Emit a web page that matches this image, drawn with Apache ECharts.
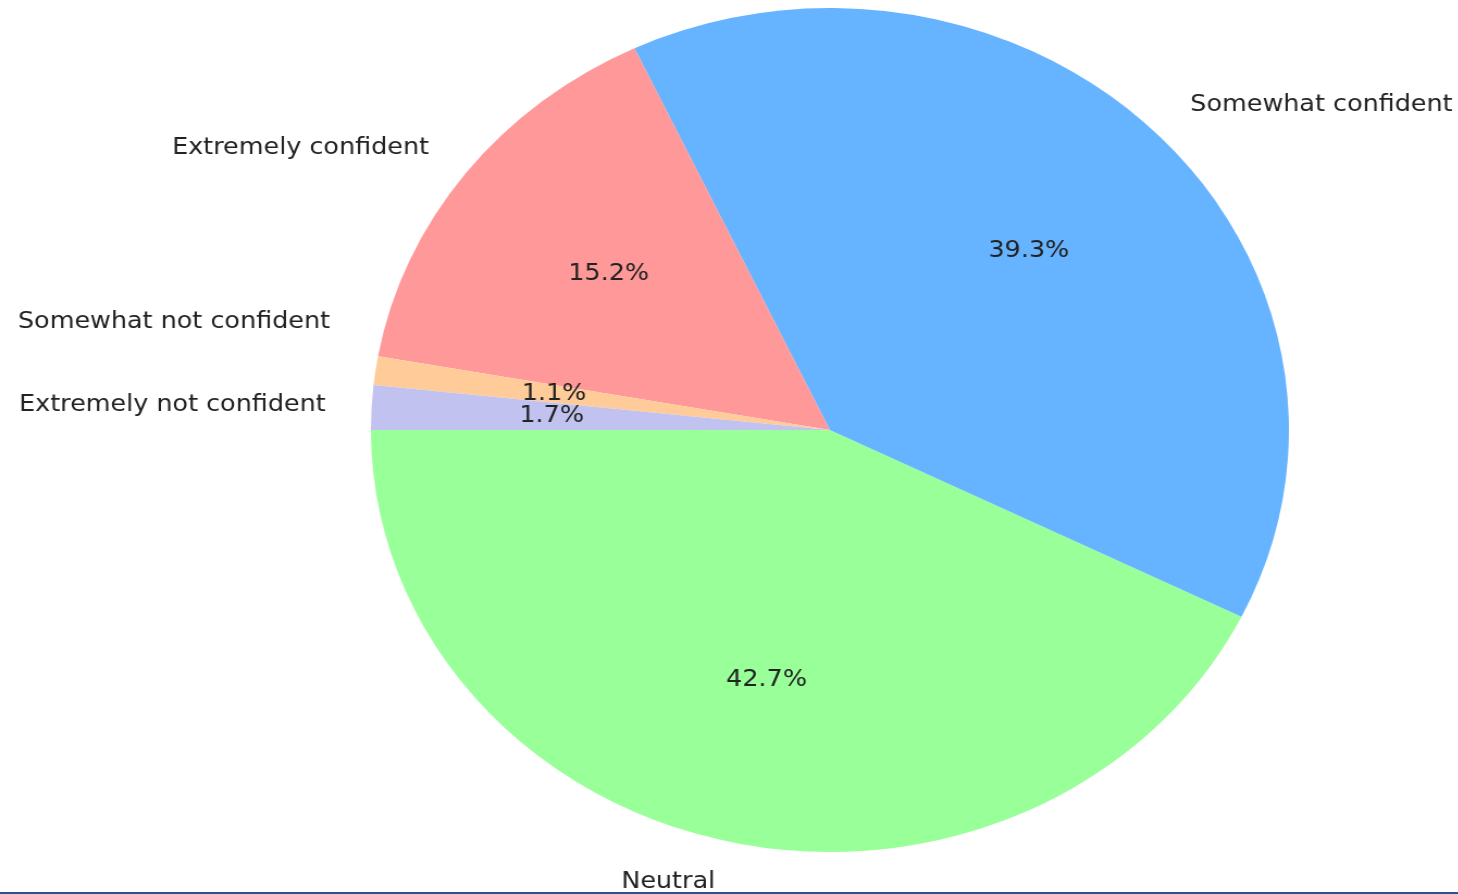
<!DOCTYPE html>
<html>
<head>
<meta charset="utf-8">
<script src="https://cdn.jsdelivr.net/npm/echarts@6/dist/echarts.min.js"></script>
<style>
  html, body { margin: 0; padding: 0; background: #ffffff; overflow: hidden; }
  #wrap { position: relative; width: 1458px; height: 894px; overflow: hidden; }
  #chart { position: absolute; left: 0; top: 0; width: 1340px; height: 894px;
           transform: scaleX(1.0877); transform-origin: 0 0; }
  #bar { position: absolute; left: 0; bottom: 0; width: 1458px; height: 2px; background: #2f4e8e; }
</style>
</head>
<body>
<div id="wrap">
  <div id="chart"></div>
  <div id="bar"></div>
</div>
<script>
// Data (matplotlib order, drawn counter-clockwise from 9 o'clock)
const categories = ['Neutral', 'Somewhat confident', 'Extremely confident', 'Somewhat not confident', 'Extremely not confident'];
const percents = [42.7, 39.3, 15.2, 1.1, 1.7];
const colors = ['#99ff99', '#66b3ff', '#ff9999', '#ffcc99', '#c2c2f0'];

const chart = echarts.init(document.getElementById('chart'), null, { renderer: 'canvas' });
const R = 422;
const center = [763, 430];
const font = 'DejaVu Sans';
const fs = 23.4;

const pieData = categories.map((name, i) => ({ name, value: percents[i], itemStyle: { color: colors[i] } }));
const labelData = categories.map((name, i) => ({ name, value: percents[i] }));

chart.setOption({
  animation: false,
  backgroundColor: '#ffffff',
  series: [
    {
      type: 'pie',
      center: center,
      radius: [0, R],
      startAngle: 180,
      clockwise: false,
      avoidLabelOverlap: false,
      silent: true,
      itemStyle: { borderWidth: 0 },
      emphasis: { disabled: true },
      label: {
        show: true,
        position: 'outside',
        formatter: '{b}',
        color: '#222222',
        fontFamily: font,
        fontSize: fs,
        distanceToLabelLine: 0
      },
      labelLine: { show: false, length: R * 0.1, length2: 0 },
      labelLayout: function (p) {
        if (p.dataIndex === 3) { return { dy: -43, hideOverlap: false }; }
        return { hideOverlap: false };
      },
      data: pieData
    },
    {
      type: 'pie',
      center: center,
      radius: [R * 0.2, R],
      startAngle: 180,
      clockwise: false,
      avoidLabelOverlap: false,
      silent: true,
      itemStyle: { color: 'rgba(0,0,0,0)', borderWidth: 0 },
      emphasis: { disabled: true },
      label: {
        show: true,
        position: 'inside',
        formatter: '{c}%',
        color: '#222222',
        fontFamily: font,
        fontSize: fs,
        overflow: 'none'
      },
      labelLine: { show: false },
      labelLayout: { hideOverlap: false },
      data: labelData
    }
  ]
});
</script>
</body>
</html>
